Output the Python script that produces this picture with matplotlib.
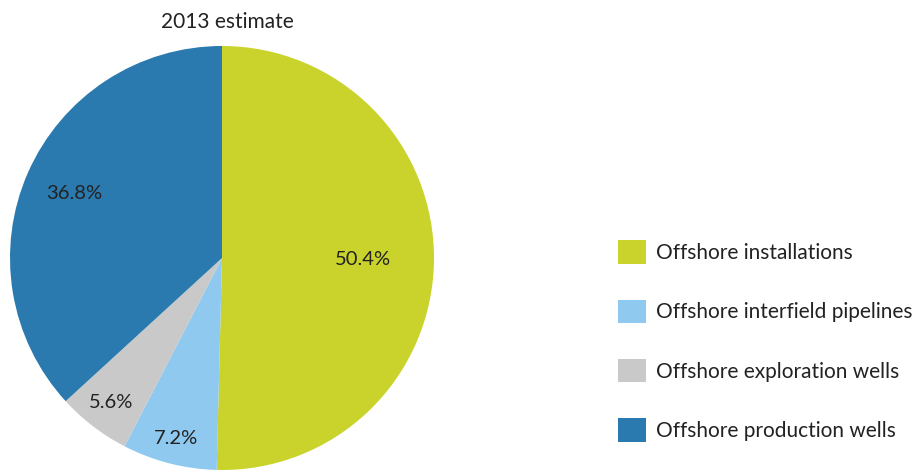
import numpy as np
import matplotlib
matplotlib.use("Agg")
import matplotlib.pyplot as plt
from matplotlib.patches import Patch

plt.rcParams["font.family"] = ["Lato", "DejaVu Sans"]

labels = ["Offshore installations", "Offshore interfield pipelines",
          "Offshore exploration wells", "Offshore production wells"]
shares = [50.4, 7.2, 5.6, 36.8]
colors = ["#c9d32b", "#8fc9ef", "#c9c9c9", "#2a7aaf"]
title = "2013 estimate"

# label distance from centre, per wedge (fraction of radius)
label_r = [0.665, 0.88, 0.86, 0.76]

fig = plt.figure(figsize=(9.17, 4.73), dpi=100)
W, H = 917, 473
cx, cy, R = 222, 258, 212
ax = fig.add_axes([(cx - R) / W, (H - cy - R) / H, 2 * R / W, 2 * R / H])
wedges, _ = ax.pie(shares, colors=colors, startangle=90, counterclock=False,
                   radius=1, wedgeprops=dict(linewidth=0))
ax.set_xlim(-1, 1); ax.set_ylim(-1, 1)
ax.set_aspect("equal")
ax.axis("off")

for w, s, r in zip(wedges, shares, label_r):
    mid = np.deg2rad((w.theta1 + w.theta2) / 2)
    ax.text(r * np.cos(mid), r * np.sin(mid), f"{s}%", ha="center", va="center",
            fontsize=14.5, color="#222222")

fig.text(227 / W, 1 - 22 / H, title, ha="center", va="center", fontsize=15, color="#222222")

handles = [Patch(facecolor=c, edgecolor="none") for c in colors]
fig.legend(handles, labels, loc="center left", bbox_to_anchor=(599 / W, 1 - 341 / H),
           frameon=False, fontsize=15, handlelength=1.35, handleheight=1.35,
           labelspacing=1.72, handletextpad=0.5, labelcolor="#222222")

fig.savefig("out.png", dpi=100)
